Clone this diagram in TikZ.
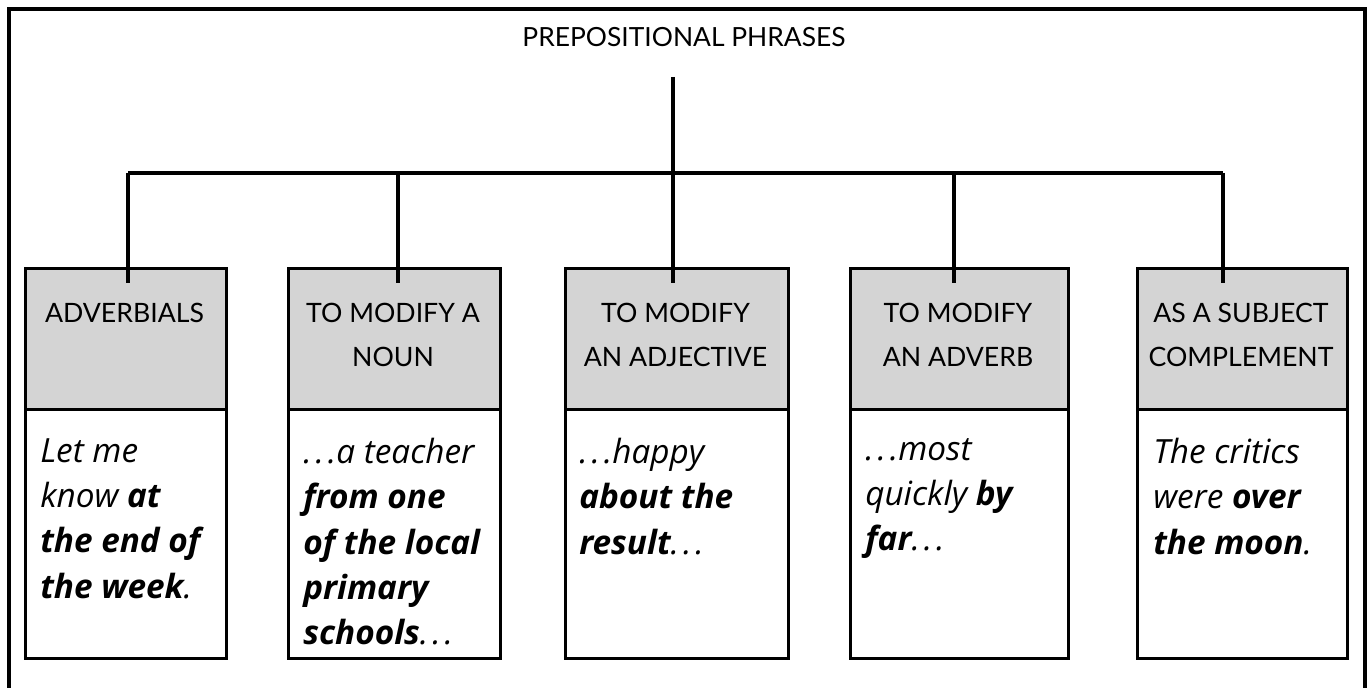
\documentclass[tikz,border=0pt]{standalone}
\usepackage{fontspec}
\setmainfont{Open Sans}
\newfontfamily\headfont{Lato}
\definecolor{headgrey}{RGB}{212,212,212}
% spaced ellipsis
\newcommand\elide{.\kern0.12em.\kern0.12em.}
\begin{document}
\begin{tikzpicture}[x=0.75pt,y=-0.75pt,
  rule/.style={line width=2.3pt},
  headbox/.style={draw, line width=2.3pt, fill=headgrey, anchor=north west,
    inner sep=0pt, minimum height=141*0.75pt},
  exbox/.style={draw, line width=2.3pt, fill=white, anchor=north west,
    inner sep=0pt, minimum height=249*0.75pt},
  headtext/.style={anchor=north, inner sep=0pt, align=center,
    font=\headfont\fontsize{20}{33}\selectfont},
  extext/.style={anchor=north west, inner sep=0pt, align=left,
    font=\fontsize{25}{34}\selectfont\itshape}
]
\useasboundingbox (0,0) rectangle (1368,688);
\fill[white] (0,0) rectangle (1368,688);

% frame (its lower edge lies below the page)
\draw[line width=2.4pt] (9,688) -- (9,9) -- (1365,9) -- (1365,688);

% title and trunk
\node[anchor=base, inner sep=0pt, font=\headfont\fontsize{19.8}{24}\selectfont]
  (title) at (684,47) {PREPOSITIONAL PHRASES};
\coordinate (top) at (673,77);
\coordinate (hub) at (673,173);
\coordinate (d1) at (128,173);
\coordinate (d2) at (398,173);
\coordinate (d3) at (673,173);
\coordinate (d4) at (954,173);
\coordinate (d5) at (1223,173);

% column boxes
\node[headbox, minimum width=201*0.75pt] (h1) at (24,267) {};
\node[exbox,   minimum width=201*0.75pt] (e1) at (24,408) {};
\node[headbox, minimum width=212*0.75pt] (h2) at (287,267) {};
\node[exbox,   minimum width=212*0.75pt] (e2) at (287,408) {};
\node[headbox, minimum width=223*0.75pt] (h3) at (564,267) {};
\node[exbox,   minimum width=223*0.75pt] (e3) at (564,408) {};
\node[headbox, minimum width=218*0.75pt] (h4) at (849,267) {};
\node[exbox,   minimum width=218*0.75pt] (e4) at (849,408) {};
\node[headbox, minimum width=210*0.75pt] (h5) at (1136,267) {};
\node[exbox,   minimum width=210*0.75pt] (e5) at (1136,408) {};

% connectors
\draw[rule] (top) -- (hub);
\draw[rule] (d1) -- (d5);
\foreach \i in {1,...,5}
  \draw[rule] (d\i) -- (d\i |- h\i.north) -- ++(0,16);

% headings
\node[headtext] (t1) at (124.5,303) {ADVERBIALS};
\node[headtext] (t2) at (393,303) {TO MODIFY A\\NOUN};
\node[headtext] (t3) at (675.5,303) {TO MODIFY\\AN ADJECTIVE};
\node[headtext] (t4) at (958,303) {TO MODIFY\\AN ADVERB};
\node[headtext] (t5) at (1241,303) {AS A SUBJECT\\COMPLEMENT};

% examples
\node[extext] (x1) at (40,438)
  {Let me\\know {\bfseries at}\\{\bfseries the end of}\\{\bfseries the week}.};
\node[extext] (x2) at (303,438)
  {\elide a teacher\\{\bfseries from one}\\{\bfseries of the local}\\{\bfseries primary}\\{\bfseries schools}\elide};
\node[extext] (x3) at (579,438)
  {\elide happy\\{\bfseries about the}\\{\bfseries result}\elide};
\node[extext] (x4) at (865,438)
  {\elide most\\quickly {\bfseries by}\\{\bfseries far}\elide};
\node[extext] (x5) at (1153,438)
  {The critics\\were {\bfseries over}\\{\bfseries the moon}.};
\end{tikzpicture}
\end{document}
